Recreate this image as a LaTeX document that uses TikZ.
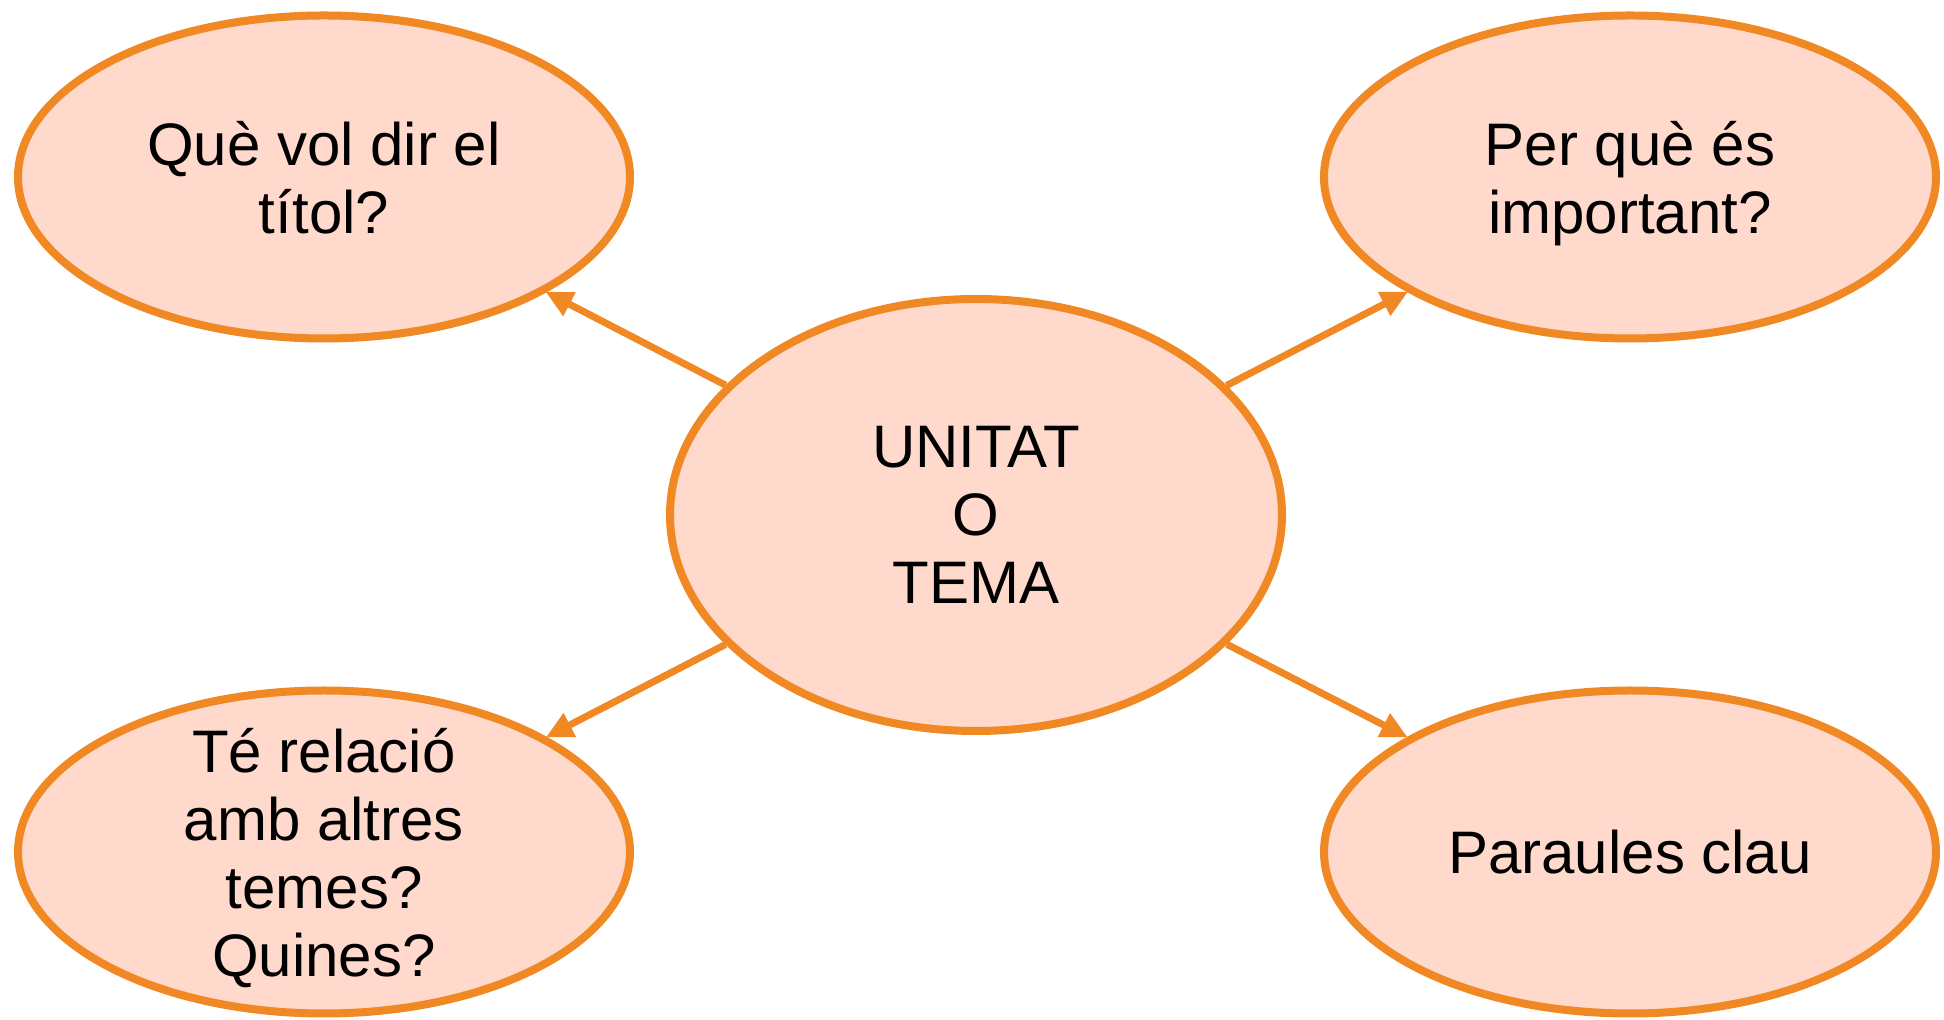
\documentclass[tikz,border=0pt]{standalone}
\usepackage{fontspec}
\setmainfont{Liberation Sans}
\usetikzlibrary{shapes.geometric,arrows.meta}
\definecolor{edgeorange}{RGB}{240,136,36}
\definecolor{peach}{RGB}{255,217,204}
\tikzset{
  bubble/.style={ellipse, draw=edgeorange, fill=peach, line width=8pt, inner sep=0pt,
    minimum width=612pt, minimum height=323pt},
  bigbubble/.style={bubble, minimum height=432pt},
  bubbletext/.style={align=center, inner sep=0pt, text depth=0pt,
    font=\fontsize{60}{68}\selectfont},
  link/.style={draw=edgeorange, line width=7pt, -{Triangle[length=27pt,width=25pt]}, shorten >=-1pt}
}
\begin{document}
\begin{tikzpicture}[x=1pt,y=1pt]
\useasboundingbox (0,0) rectangle (1944,1020);
\node[bubble] (tl) at (324,843) {};
\node[bubble] (tr) at (1630,843) {};
\node[bigbubble] (c) at (976,505) {};
\node[bubble] (bl) at (324,168) {};
\node[bubble] (br) at (1630,168) {};
\node[bubbletext] (tltext) at (tl.center) {Què vol dir el\\títol?};
\node[bubbletext] (trtext) at (tr.center) {Per què és\\important?};
\node[bubbletext] (ctext) at (c.center) {UNITAT\\O\\TEMA};
\node[bubbletext] (bltext) at (bl.center) {Té relació\\amb altres\\temes?\\Quines?};
\node[bubbletext] (brtext) at (br.center) {Paraules clau};
\draw[link] (c) -- (tl);
\draw[link] (c) -- (tr);
\draw[link] (c) -- (bl);
\draw[link] (c) -- (br);
\end{tikzpicture}
\end{document}
